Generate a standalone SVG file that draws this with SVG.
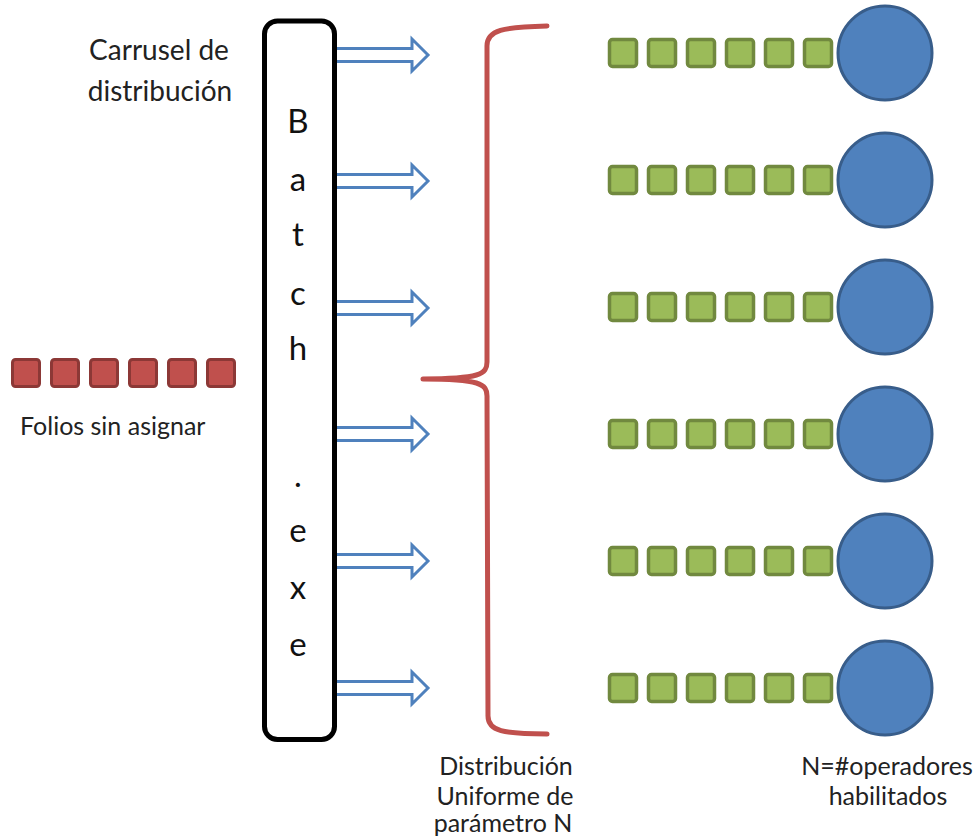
<svg xmlns="http://www.w3.org/2000/svg" width="975" height="839" viewBox="0 0 975 839">
  <style>
    .lbl { font-family: Lato, "Open Sans", "Liberation Sans", sans-serif; font-size: 25px; fill: #222; }
    .big { font-size: 28px; }
    .mid { text-anchor: middle; }
    .batch { font-family: Lato, "Open Sans", "Liberation Sans", sans-serif; font-size: 33px; fill: #111; text-anchor: middle; }
    .arrow { fill: #ffffff; stroke: #4f81bd; stroke-width: 3; stroke-linejoin: miter; }
    .folio { fill: #c0504d; stroke: #8c3836; stroke-width: 3; }
    .queue { fill: #9bbb59; stroke: #71893f; stroke-width: 3.5; }
    .oper { fill: #4f81bd; stroke: #385d8a; stroke-width: 3; }
    .brace { fill: none; stroke: #c0504d; stroke-width: 5; stroke-linecap: round; stroke-linejoin: round; }
  </style>
  <defs>
    <g id="arr"><polygon class="arrow" points="328,-6.5 412,-6.5 412,-16 428,0 412,16 412,6.5 328,6.5"/></g>
    <g id="row">
      <rect class="queue" x="609.5" y="-13.5" width="27" height="27" rx="3"/>
      <rect class="queue" x="648.5" y="-13.5" width="27" height="27" rx="3"/>
      <rect class="queue" x="687.5" y="-13.5" width="27" height="27" rx="3"/>
      <rect class="queue" x="726.5" y="-13.5" width="27" height="27" rx="3"/>
      <rect class="queue" x="765.5" y="-13.5" width="27" height="27" rx="3"/>
      <rect class="queue" x="804.5" y="-13.5" width="27" height="27" rx="3"/>
      <circle class="oper" cx="885" cy="0" r="47"/>
    </g>
  </defs>

  <rect width="975" height="839" fill="#ffffff"/>

  <!-- connectors: dispatch arrows and the distribution brace -->
  <g id="connectors">
    <use href="#arr" transform="translate(0,55)"/>
    <use href="#arr" transform="translate(0,181)"/>
    <use href="#arr" transform="translate(0,308)"/>
    <use href="#arr" transform="translate(0,434)"/>
    <use href="#arr" transform="translate(0,561)"/>
    <use href="#arr" transform="translate(0,688)"/>
    <path class="brace" d="M547,26 C503,27 487,30 487,46 L487,362 C487,374 480,379 423,379 M423,379 C480,379 487,384 487,396 L488,716 C488,731 503,734 547,734"/>
  </g>

  <!-- unassigned folios -->
  <g id="folios">
    <rect class="folio" x="12.5" y="359.5" width="27" height="27" rx="3"/>
    <rect class="folio" x="51.5" y="359.5" width="27" height="27" rx="3"/>
    <rect class="folio" x="90.5" y="359.5" width="27" height="27" rx="3"/>
    <rect class="folio" x="129.5" y="359.5" width="27" height="27" rx="3"/>
    <rect class="folio" x="168.5" y="359.5" width="27" height="27" rx="3"/>
    <rect class="folio" x="207.5" y="359.5" width="27" height="27" rx="3"/>
    <text class="lbl" x="20" y="435">Folios sin asignar</text>
  </g>

  <g id="carrusel-label">
    <text class="lbl big mid" x="159" y="60">Carrusel de</text>
    <text class="lbl big mid" x="160" y="101">distribución</text>
  </g>

  <!-- Batch.exe dispatcher -->
  <g id="batch">
    <rect x="264.5" y="21" width="70" height="718.5" rx="13" fill="#ffffff" stroke="#000" stroke-width="5"/>
    <text class="batch" x="298" y="133">B</text>
    <text class="batch" x="298" y="191">a</text>
    <text class="batch" x="298" y="246">t</text>
    <text class="batch" x="298" y="305">c</text>
    <text class="batch" x="298" y="360">h</text>
    <text class="batch" x="298" y="487">.</text>
    <text class="batch" x="298" y="542">e</text>
    <text class="batch" x="298" y="599">x</text>
    <text class="batch" x="298" y="656">e</text>
  </g>

  <!-- operator queues -->
  <g id="operador-1"><use href="#row" transform="translate(0,53)"/></g>
  <g id="operador-2"><use href="#row" transform="translate(0,180)"/></g>
  <g id="operador-3"><use href="#row" transform="translate(0,307)"/></g>
  <g id="operador-4"><use href="#row" transform="translate(0,434)"/></g>
  <g id="operador-5"><use href="#row" transform="translate(0,561)"/></g>
  <g id="operador-6"><use href="#row" transform="translate(0,688)"/></g>

  <g id="distribucion-label">
    <text class="lbl mid" x="506" y="775">Distribución</text>
    <text class="lbl mid" x="505" y="805">Uniforme de</text>
    <text class="lbl mid" x="503" y="832">parámetro N</text>
  </g>

  <g id="operadores-label">
    <text class="lbl mid" x="887" y="775">N=#operadores</text>
    <text class="lbl mid" x="888" y="805">habilitados</text>
  </g>
</svg>
